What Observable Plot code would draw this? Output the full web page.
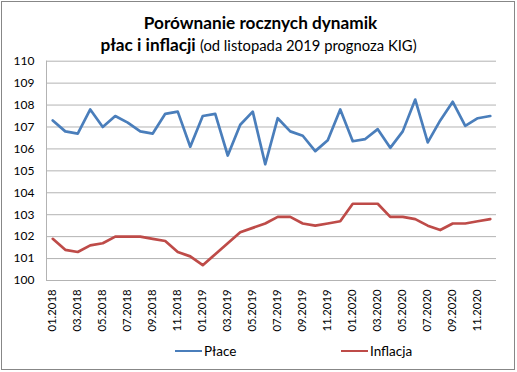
<!DOCTYPE html>
<html><head><meta charset="utf-8">
<script src="https://cdn.jsdelivr.net/npm/d3@7"></script>
<script src="https://cdn.jsdelivr.net/npm/@observablehq/plot@0.6"></script>
<style>
body{margin:0;background:#fff;}
#wrap{position:relative;width:517px;height:372px;font-family:Lato,"Open Sans",sans-serif;color:#000;}
#border{position:absolute;left:1px;top:1px;width:512px;height:367px;border:1px solid #878787;box-sizing:content-box;}
#t1,#t2{position:absolute;left:0;width:517px;text-align:center;white-space:nowrap;}
#t1{top:12px;font-size:17.2px;font-weight:bold;left:2px;}
#t2{top:34px;font-size:17.2px;font-weight:bold;}
#t2 span{font-weight:normal;font-size:14.8px;}
#chart{position:absolute;left:0;top:0;}
.leg{position:absolute;top:343px;font-size:13.5px;display:flex;align-items:center;}
.leg i{display:inline-block;width:27px;height:2.5px;margin-right:2px;}
</style></head>
<body><div id="wrap"><div id="border"></div><div id="chart"></div>
<div id="t1">Porównanie rocznych dynamik</div>
<div id="t2">płac i inflacji <span>(od listopada 2019 prognoza KIG)</span></div>
<div class="leg" style="left:175px"><i style="background:#4A7EBB"></i>Płace</div>
<div class="leg" style="left:341px"><i style="background:#BE4B48"></i>Inflacja</div>
</div>
<script>
const months = ["01.2018","02.2018","03.2018","04.2018","05.2018","06.2018","07.2018","08.2018","09.2018","10.2018","11.2018","12.2018",
"01.2019","02.2019","03.2019","04.2019","05.2019","06.2019","07.2019","08.2019","09.2019","10.2019","11.2019","12.2019",
"01.2020","02.2020","03.2020","04.2020","05.2020","06.2020","07.2020","08.2020","09.2020","10.2020","11.2020","12.2020"];
const place = [107.3,106.8,106.7,107.8,107.0,107.5,107.2,106.8,106.7,107.6,107.7,106.1,
107.5,107.6,105.7,107.1,107.7,105.3,107.4,106.8,106.6,105.9,106.4,107.8,
106.35,106.45,106.9,106.05,106.8,108.25,106.3,107.3,108.15,107.05,107.4,107.5];
const inflacja = [101.9,101.4,101.3,101.6,101.7,102.0,102.0,102.0,101.9,101.8,101.3,101.1,
100.7,101.2,101.7,102.2,102.4,102.6,102.9,102.9,102.6,102.5,102.6,102.7,
103.5,103.5,103.5,102.9,102.9,102.8,102.5,102.3,102.6,102.6,102.7,102.8];
const yTicks = [100,101,102,103,104,105,106,107,108,109,110];
const xTicks = months.map((m,i)=>i).filter(i=>i%2===0);

const rows = months.map((m,i)=>({i, m, place: place[i], inflacja: inflacja[i]}));
const xMin = -0.5, xMax = months.length - 0.5;

const plot = Plot.plot({
  width: 517, height: 372,
  marginTop: 60.7, marginBottom: 92, marginLeft: 46, marginRight: 21,
  style: {fontFamily: "Lato, 'Open Sans', sans-serif", background: "transparent", color: "#000", overflow: "visible"},
  x: {domain: [xMin, xMax], axis: null, label: null},
  y: {domain: [100, 110], axis: null, label: null},
  marks: [
    Plot.gridY(yTicks, {stroke: "#b3b3b3", strokeOpacity: 1, strokeWidth: 1}),
    Plot.ruleX([xMin], {stroke: "#b3b3b3", strokeWidth: 1}),
    Plot.axisY(yTicks, {tickSize: 0, tickPadding: 12, fontSize: 12, label: null, tickFormat: d => String(d)}),
    Plot.axisX(xTicks, {tickSize: 0, tickPadding: 9, tickRotate: -90, fontSize: 11.3, label: null, tickFormat: i => months[i]}),
    Plot.line(rows, {x: "i", y: "place", stroke: "#4A7EBB", strokeWidth: 2.7}),
    Plot.line(rows, {x: "i", y: "inflacja", stroke: "#BE4B48", strokeWidth: 2.7})
  ]
});
document.getElementById("chart").appendChild(plot);
</script></body></html>
